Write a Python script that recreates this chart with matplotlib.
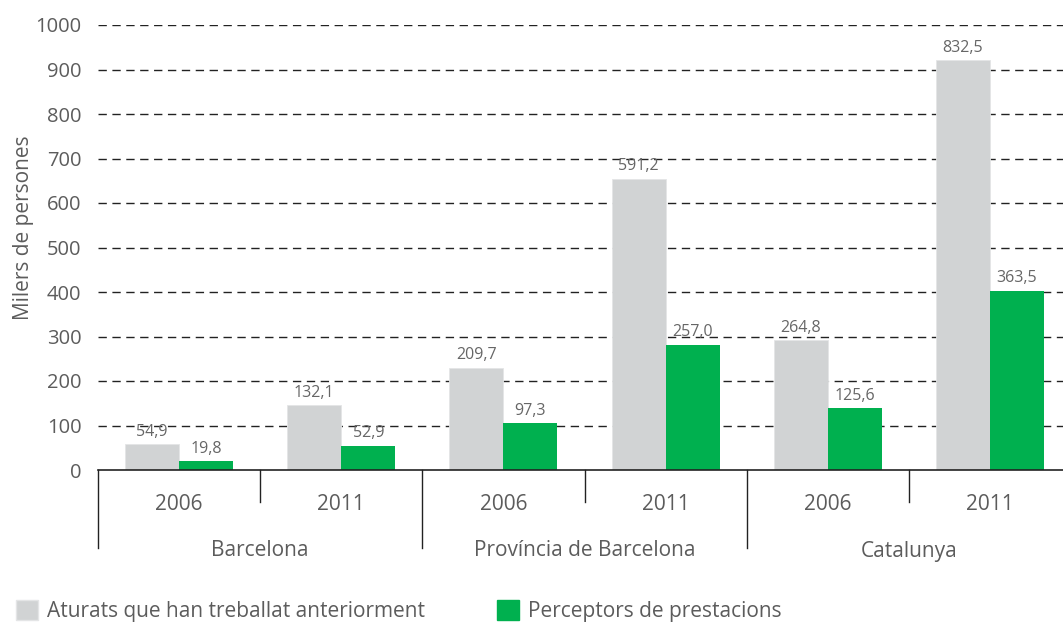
import matplotlib.pyplot as plt
import matplotlib.transforms as mtransforms
from matplotlib.patches import Patch

plt.rcParams['font.family'] = ['Open Sans', 'DejaVu Sans']

# data
groups = ['Barcelona', 'Província de Barcelona', 'Catalunya']
years = ['2006', '2011', '2006', '2011', '2006', '2011']
aturats = [58, 146, 230, 655, 292, 922]          # bar heights as drawn
perceptors = [20, 55, 106, 282, 139, 403]
aturats_lbl = ['54,9', '132,1', '209,7', '591,2', '264,8', '832,5']
perceptors_lbl = ['19,8', '52,9', '97,3', '257,0', '125,6', '363,5']
series_names = ['Aturats que han treballat anteriorment', 'Perceptors de prestacions']
yticks = list(range(0, 1001, 100))

grey = '#D1D3D4'
green = '#00B04F'
txt = '#5c5c5c'

W, H = 1063, 623
fig = plt.figure(figsize=(W / 100, H / 100), dpi=100)
ax = fig.add_axes([98 / W, (H - 470) / H, (1071 - 98) / W, 445 / H])

n = len(years)
bw = 1 / 3
xs = [i + 0.5 for i in range(n)]
b1 = ax.bar([x - bw / 2 for x in xs], aturats, width=bw, color=grey, edgecolor='#e4e5e6', linewidth=0.6, zorder=2)
b2 = ax.bar([x + bw / 2 for x in xs], perceptors, width=bw, color=green, zorder=2)

for bars, labels in ((b1, aturats_lbl), (b2, perceptors_lbl)):
    for r, lab in zip(bars, labels):
        ax.annotate(lab, (r.get_x() + r.get_width() / 2, r.get_height()),
                    xytext=(0, 3), textcoords='offset points', ha='center', va='bottom',
                    fontsize=11.5, color='#666666', zorder=4)

ax.set_xlim(0, n)
ax.set_ylim(0, 1000)
ax.set_yticks(yticks)
ax.tick_params(axis='y', length=0, pad=12, labelsize=14.5, labelcolor=txt)
ax.set_xticks([])
for s in ('left', 'right', 'top'):
    ax.spines[s].set_visible(False)
ax.spines['bottom'].set_color('#222222')
ax.spines['bottom'].set_linewidth(1.2)
ax.spines['bottom'].set_zorder(5)

for y in yticks[1:]:
    ax.axhline(y, color='#222222', lw=1.0, linestyle=(0, (6, 4)), zorder=1)

ax.set_ylabel('Milers de persones', fontsize=15, color=txt)
ax.yaxis.set_label_coords(-(98 - 34) / 973, (470 - 228) / 445)

# two-level category axis
trans = mtransforms.blended_transform_factory(ax.transData, ax.transAxes)
short, long_ = -32 / 445, -78 / 445
for i in range(n + 1):
    depth = long_ if i % 2 == 0 else short
    ax.plot([i, i], [0, depth], color='#222222', lw=1.0, transform=trans, clip_on=False)
for i, yr in enumerate(years):
    ax.text(i + 0.5, -34 / 445, yr, transform=trans, ha='center', va='center',
            fontsize=15, color=txt)
for g, name in enumerate(groups):
    ax.text(2 * g + 1, -81 / 445, name, transform=trans, ha='center', va='center',
            fontsize=15, color=txt)

# legend, one entry each so the columns sit where they do in the reference
colors = [(grey, '#e4e5e6'), (green, green)]
for (fc, ec), name, x0 in zip(colors, series_names, (16, 497)):
    fig.legend([Patch(facecolor=fc, edgecolor=ec)], [name],
               loc='lower left', bbox_to_anchor=(x0 / W, 1 / H), frameon=False,
               handlelength=1.05, handleheight=1.05, handletextpad=0.45,
               fontsize=15, labelcolor=txt, borderaxespad=0, borderpad=0)

fig.savefig('out.png', dpi=100)
